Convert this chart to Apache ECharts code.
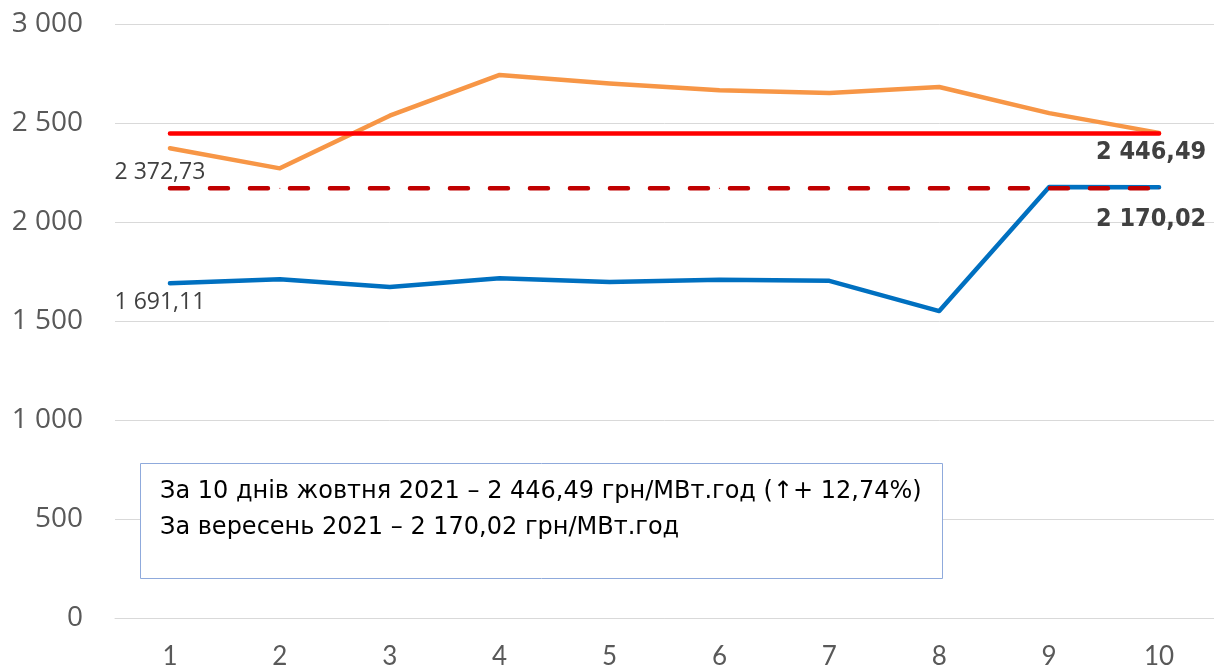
<!doctype html>
<html>
<head>
<meta charset="utf-8">
<title>Ціни РДН</title>
<style>
html, body { margin: 0; padding: 0; background: #fff; }
#chart { width: 1214px; height: 670px; }
</style>
<script src="https://cdn.jsdelivr.net/npm/echarts@6/dist/echarts.min.js"></script>
</head>
<body>
<div id="chart"></div>
<script>
// дні жовтня
var days = ['1', '2', '3', '4', '5', '6', '7', '8', '9', '10'];
// ціни по днях (оранжева і синя лінії)
var priceOrange = [2372.73, 2271, 2537, 2743, 2700, 2666, 2651, 2682, 2550, 2450];
var priceBlue = [1691.11, 1711, 1672, 1716, 1697, 1708, 1703, 1550, 2177, 2176];
// середні значення
var avgOctober = 2446.49;
var avgSeptember = 2170.02;
var yTicks = { min: 0, max: 3000, step: 500 };
var noteLines = [
    'За 10 днів жовтня 2021 – 2 446,49 грн/МВт.год (↑+ 12,74%)',
    'За вересень 2021 – 2 170,02 грн/МВт.год'
];

var myChart = echarts.init(document.getElementById('chart'));

function fmtThousands(v) {
    return String(v).replace(/\B(?=(\d{3})+(?!\d))/g, ' ');
}
function fmtValue(v) {
    var parts = v.toFixed(2).split('.');
    return fmtThousands(parts[0]) + ',' + parts[1];
}

// константа на всі дні для горизонтальних ліній
var avgOctLine = days.map(function () { return avgOctober; });
var avgSepLine = days.map(function () { return avgSeptember; });

// підпис лише на одній точці
function labelOn(arr, idx, lbl) {
    return arr.map(function (v, i) {
        if (i === idx) return { value: v, label: lbl };
        return v;
    });
}

var smallLbl = function (dist) {
    return {
        show: true, position: 'bottom', distance: dist, offset: [-10, 0],
        color: '#404040', fontSize: 23, fontFamily: 'Open Sans',
        formatter: function (p) { return fmtValue(p.value); }
    };
};
var boldLbl = function (dist) {
    return {
        show: true, position: 'bottom', distance: dist, offset: [-8, 0],
        color: '#404040', fontSize: 25, fontWeight: 'bold', fontFamily: 'DejaVu Sans Condensed',
        formatter: function (p) { return fmtValue(p.value); }
    };
};

var option = {
    backgroundColor: '#fff',
    animation: false,
    grid: { left: 115, top: 24, width: 1100, height: 595 },
    xAxis: {
        type: 'category',
        data: days,
        boundaryGap: true,
        axisLine: { show: true, lineStyle: { color: '#D9D9D9', width: 1 } },
        axisTick: { show: false },
        axisLabel: { color: '#595959', fontSize: 26, fontFamily: 'Lato', margin: 26 }
    },
    yAxis: {
        type: 'value',
        min: yTicks.min, max: yTicks.max, interval: yTicks.step,
        axisLine: { show: false },
        axisTick: { show: false },
        axisLabel: {
            color: '#595959', fontSize: 28, fontFamily: 'Open Sans', margin: 32,
            formatter: function (v) { return fmtThousands(v); }
        },
        splitLine: { lineStyle: { color: '#D9D9D9', width: 1 } }
    },
    series: [
        {
            type: 'line', data: labelOn(priceOrange, 0, smallLbl(12)),
            symbol: 'circle', symbolSize: 1, showSymbol: true,
            itemStyle: { color: '#F79646' },
            lineStyle: { color: '#F79646', width: 4.5, cap: 'round', join: 'round' },
            z: 2
        },
        {
            type: 'line', data: labelOn(priceBlue, 0, smallLbl(7)),
            symbol: 'circle', symbolSize: 1, showSymbol: true,
            itemStyle: { color: '#0070C0' },
            lineStyle: { color: '#0070C0', width: 4.5, cap: 'round', join: 'round' },
            z: 3
        },
        {
            type: 'line', data: labelOn(avgOctLine, 9, boldLbl(6)),
            symbol: 'circle', symbolSize: 1, showSymbol: true,
            itemStyle: { color: '#FF0000' },
            lineStyle: { color: '#FF0000', width: 4.5, cap: 'round' },
            z: 4
        },
        {
            type: 'line', data: labelOn(avgSepLine, 9, boldLbl(18)),
            symbol: 'circle', symbolSize: 1, showSymbol: true,
            itemStyle: { color: '#C00000' },
            lineStyle: { color: '#C00000', width: 4.5, type: [18, 22], cap: 'round' },
            z: 5
        }
    ],
    graphic: [
        {
            type: 'rect', left: 140, top: 463, z: 10,
            shape: { width: 802, height: 115 },
            style: { fill: '#fff', stroke: '#8FAADC', lineWidth: 1 }
        },
        {
            type: 'text', left: 160, top: 474, z: 11,
            style: {
                text: noteLines.join('\n'),
                fill: '#000', fontSize: 24, lineHeight: 36,
                fontFamily: 'DejaVu Sans'
            }
        }
    ]
};

myChart.setOption(option);
</script>
</body>
</html>
